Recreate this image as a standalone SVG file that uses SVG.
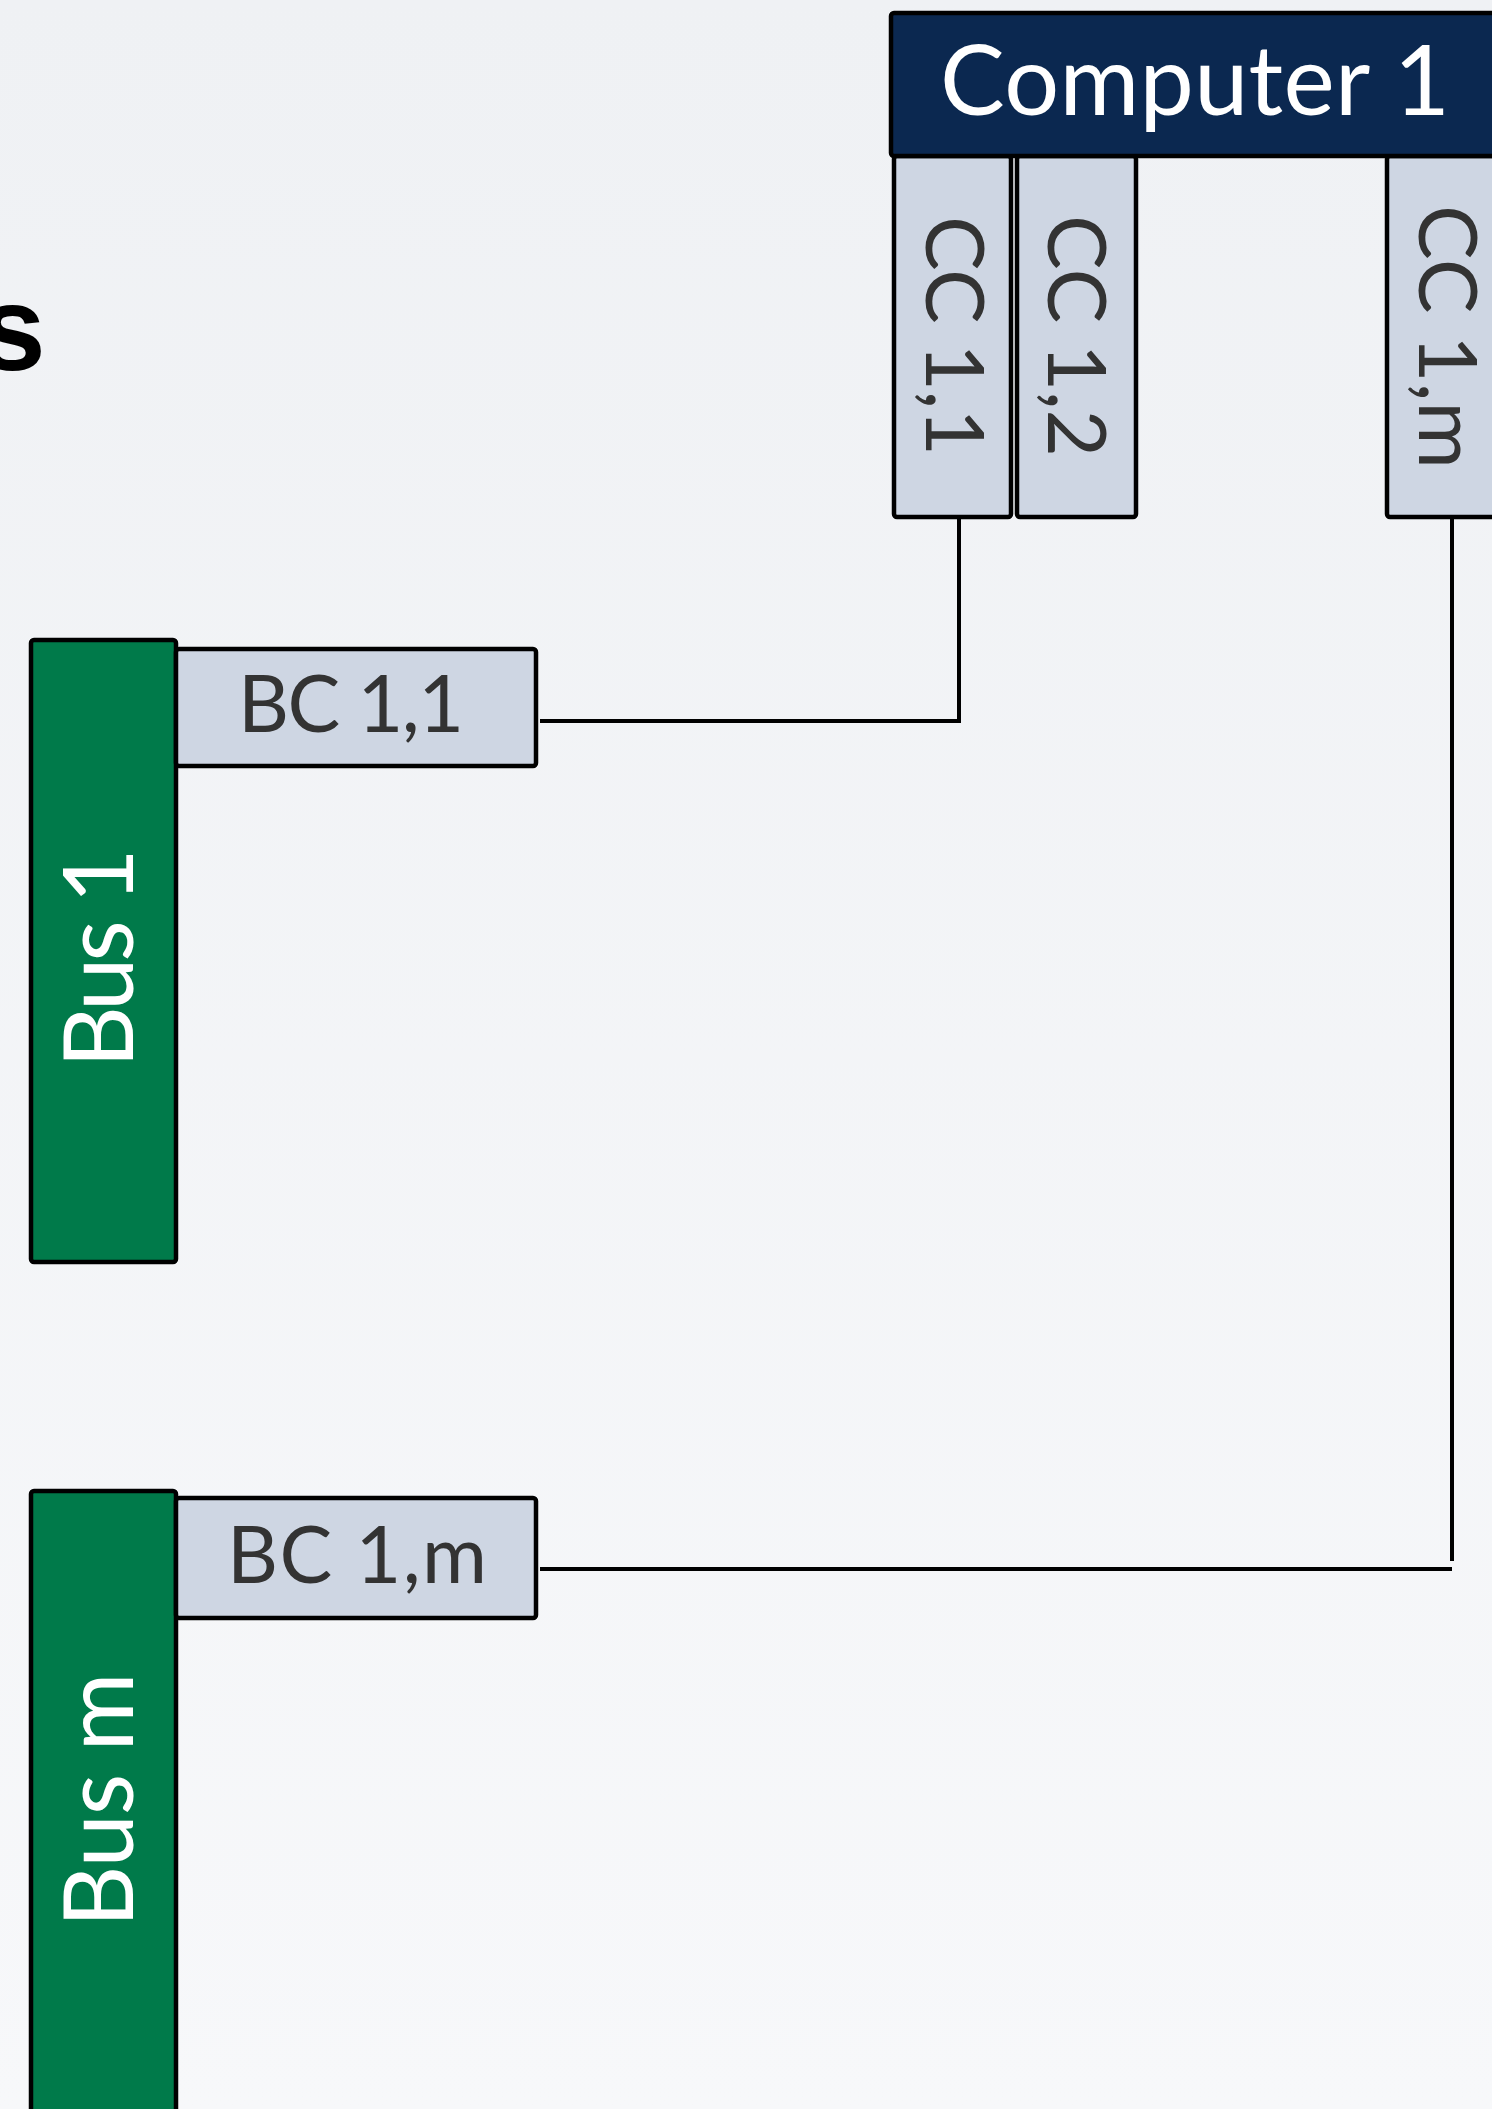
<svg xmlns="http://www.w3.org/2000/svg" width="1492" height="2109" viewBox="0 0 1492 2109">
<defs>
<linearGradient id="bg" x1="0" y1="0" x2="0" y2="1">
<stop offset="0" stop-color="#EFF1F4"/>
<stop offset="1" stop-color="#F7F8FA"/>
</linearGradient>
</defs>
<style>
.box{stroke:#000;stroke-width:4.5}
.port{fill:#CED6E3}
.comp{fill:#0B2850}
.bus{fill:#007A4A}
.lbl{font-family:Lato,"Noto Sans",sans-serif;font-weight:400}
.dark{fill:#333333}
.light{fill:#FFFFFF}
.conn{stroke:#000;stroke-width:4;fill:none}
</style>
<rect x="0" y="0" width="1492" height="2109" fill="url(#bg)"/>
<text x="-21" y="370" font-family="'Liberation Sans',Arial,sans-serif" font-weight="700" font-size="120" fill="#000">s</text>

<g id="cc11">
<rect class="box port" x="894" y="156" width="117" height="361" rx="3"/>
<text class="lbl dark" font-size="82" text-anchor="middle" textLength="240" transform="translate(926,336) rotate(90)">CC 1,1</text>
</g>
<g id="cc12">
<rect class="box port" x="1017" y="156" width="119" height="361" rx="3"/>
<text class="lbl dark" font-size="82" text-anchor="middle" textLength="242" transform="translate(1048,336) rotate(90)">CC 1,2</text>
</g>
<g id="cc1m">
<rect class="box port" x="1387" y="156" width="140" height="361" rx="3"/>
<text class="lbl dark" font-size="82" text-anchor="middle" textLength="264" transform="translate(1419,337) rotate(90)">CC 1,m</text>
</g>
<g id="computer1">
<rect class="box comp" x="891" y="13" width="700" height="143" rx="3"/>
<text class="lbl light" x="940" y="115" font-size="97" textLength="510">Computer 1</text>
</g>

<g id="bus1">
<rect class="box bus" x="31" y="640" width="145" height="622" rx="3"/>
<text class="lbl light" font-size="96" text-anchor="middle" textLength="220" transform="translate(133,958) rotate(-90)">Bus 1</text>
</g>
<g id="bc11">
<rect class="box port" x="176" y="649" width="360" height="117" rx="3"/>
<text class="lbl dark" x="238" y="732" font-size="79" textLength="226">BC 1,1</text>
</g>
<g id="busm">
<rect class="box bus" x="31" y="1491" width="145" height="700" rx="3"/>
<text class="lbl light" font-size="96" text-anchor="middle" textLength="255" transform="translate(133,1800) rotate(-90)">Bus m</text>
</g>
<g id="bc1m">
<rect class="box port" x="176" y="1498" width="360" height="120" rx="3"/>
<text class="lbl dark" x="227" y="1583" font-size="79" textLength="260">BC 1,m</text>
</g>

<g id="connectors">
<line class="conn" x1="540" y1="721" x2="961" y2="721"/>
<line class="conn" x1="959" y1="517" x2="959" y2="721"/>
<line class="conn" x1="1452" y1="517" x2="1452" y2="1561"/>
<line class="conn" x1="540" y1="1569" x2="1452" y2="1569"/>
</g>
</svg>
